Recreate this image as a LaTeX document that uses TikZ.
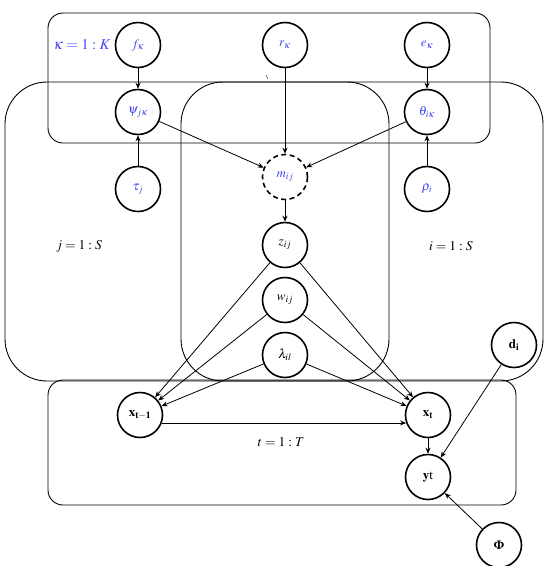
\documentclass[tikz,border=0pt]{standalone}
\usepackage{mathptmx}
\usepackage{fontspec}
\setmainfont{Liberation Serif}
\newfontfamily\greekbf{Liberation Serif}
\usetikzlibrary{arrows.meta}
\definecolor{lblue}{RGB}{70,70,240}
\begin{document}
\begin{tikzpicture}[x=1pt,y=-1pt,
  var/.style={circle, draw, line width=1.6pt, minimum size=45pt, inner sep=0pt, fill=white, font=\fontsize{13}{15}\selectfont},
  hid/.style={var, dashed, dash pattern=on 5pt off 3.5pt},
  plate/.style={draw, line width=0.9pt},
  arr/.style={-{Stealth[length=6pt,width=5pt]}, line width=0.8pt},
  lab/.style={font=\fontsize{13.5}{15}\selectfont},
  bl/.style={text=lblue}]
\useasboundingbox (0,0) rectangle (545,566);
% plates
\draw[plate, rounded corners=15pt] (48,13) rectangle (490,143);
\draw[plate, rounded corners=42pt] (5,82) rectangle (389,381);
\draw[plate, rounded corners=42pt] (181,82) rectangle (543,381);
\draw[plate, rounded corners=15pt] (48,380) rectangle (516,505);
\draw[line width=0.4pt] (266,75) -- (268,79);
% plate labels
\node[bl, font=\fontsize{15}{17}\selectfont] (klab) at (82,45) {$\kappa=1:K$};
\node[lab] (jlab) at (79,246) {$j=1:S$};
\node[lab] (ilab) at (451,246) {$i=1:S$};
\node[lab] (tlab) at (281,442) {$t=1:T$};
% nodes
\node[var, bl] (f) at (138,45) {$f_\kappa$};
\node[var, bl] (r) at (285,45) {$r_\kappa$};
\node[var, bl] (e) at (427,45) {$e_\kappa$};
\node[var, bl] (psi) at (138,112) {$\psi_{j\kappa}$};
\node[var, bl] (theta) at (427,112) {$\theta_{i\kappa}$};
\node[var, bl] (tau) at (138,189) {$\tau_j$};
\node[var, bl] (rho) at (427,189) {$\rho_i$};
\node[hid, bl] (m) at (285,177) {$m_{ij}$};
\node[var] (z) at (285,245) {$z_{ij}$};
\node[var] (w) at (285,300) {$w_{ij}$};
\node[var] (lam) at (285,355) {$\lambda_{il}$};
\node[var] (d) at (514,345) {$\mathbf{d_i}$};
\node[var] (x1) at (140,415) {$\mathbf{x_{t-1}}$};
\node[var] (xt) at (428,415) {$\mathbf{x_t}$};
\node[var] (y) at (428,477) {$\mathbf{y}$t};
\node[var] (phi) at (499,545) {{\greekbf\bfseries Φ}};
% edges
\draw[arr] (f) -- (psi);
\draw[arr] (e) -- (theta);
\draw[arr] (tau) -- (psi);
\draw[arr] (rho) -- (theta);
\draw[arr] (psi) -- (m);
\draw[arr] (theta) -- (m);
\draw[arr] (r) -- (m);
\draw[arr] (m) -- (z);
\draw[arr] (z) -- (x1);
\draw[arr] (w) -- (x1);
\draw[arr] (lam) -- (x1);
\draw[arr] (z) -- (xt);
\draw[arr] (w) -- (xt);
\draw[arr] (lam) -- (xt);
\draw[arr] (x1.-20) -- (xt.-160);
\draw[arr] (xt) -- (y);
\draw[arr] (d) -- (y);
\draw[arr] (phi) -- (y);
\end{tikzpicture}
\end{document}
